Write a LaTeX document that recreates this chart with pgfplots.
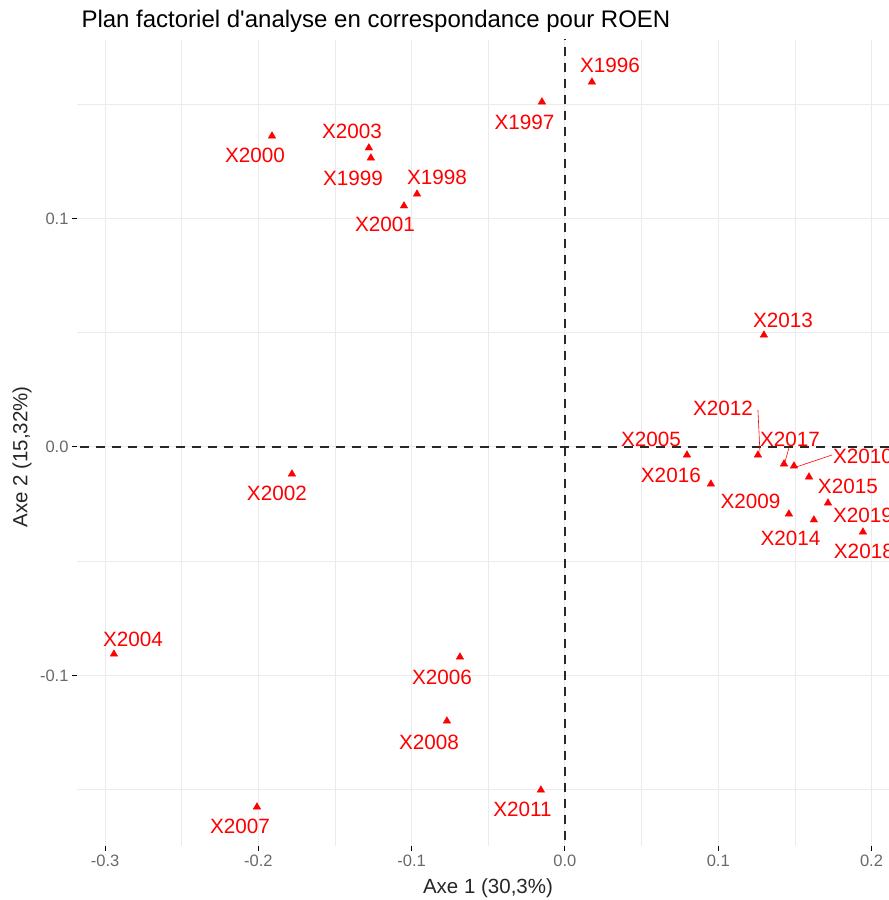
\documentclass[border=0pt]{standalone}
\usepackage{fontspec}
\setmainfont{Liberation Sans}
\usepackage{pgfplots}
\pgfplotsset{compat=1.18}
\usepackage{pgfplotstable}

\definecolor{gridc}{RGB}{235,235,235}
\definecolor{tickc}{RGB}{105,105,105}
\definecolor{ptred}{RGB}{255,0,0}
\definecolor{dashc}{RGB}{40,40,40}

% coordonnees des annees sur les axes 1 et 2
\pgfplotstableread{
x y
0.0176 0.1597
-0.0150 0.1510
-0.0965 0.1107
-0.1266 0.1265
-0.1911 0.1361
-0.1050 0.1055
-0.1781 -0.0118
-0.1279 0.1309
-0.2942 -0.0906
0.0796 -0.0035
-0.0685 -0.0919
-0.2009 -0.1575
-0.0770 -0.1199
0.1461 -0.0293
0.1494 -0.0083
-0.0157 -0.1501
0.1259 -0.0035
0.1298 0.0490
0.1624 -0.0319
0.1592 -0.0131
0.0952 -0.0162
0.1429 -0.0074
0.1944 -0.0372
0.1716 -0.0245
}\points

% position des etiquettes (repel)
\pgfplotstableread{
x y lab
0.0294 0.1672 X1996
-0.0264 0.1422 X1997
-0.0835 0.1182 X1998
-0.1383 0.1177 X1999
-0.2022 0.1278 X2000
-0.1174 0.0972 X2001
-0.1879 -0.0201 X2002
-0.1389 0.1383 X2003
-0.2818 -0.0840 X2004
0.0561 0.0035 X2005
-0.0802 -0.1007 X2006
-0.2120 -0.1659 X2007
-0.0887 -0.1291 X2008
0.1210 -0.0236 X2009
0.1944 -0.0039 X2010
-0.0277 -0.1584 X2011
0.1031 0.0171 X2012
0.1422 0.0556 X2013
0.1471 -0.0398 X2014
0.1846 -0.0171 X2015
0.0691 -0.0123 X2016
0.1468 0.0035 X2017
0.1950 -0.0455 X2018
0.1944 -0.0298 X2019
}\labels

\begin{document}
\begin{tikzpicture}[x=1pt,y=1pt]
\path[use as bounding box] (0,0) rectangle (889,900);
\begin{axis}[
  at={(77pt,54pt)}, anchor=south west,
  scale only axis, width=812pt, height=806pt,
  xmin=-0.3183, xmax=0.2114,
  ymin=-0.1746, ymax=0.1781,
  axis line style={draw=none},
  xtick={-0.3,-0.2,-0.1,0,0.1,0.2},
  xticklabels={-0.3,-0.2,-0.1,0.0,0.1,0.2},
  ytick={-0.1,0,0.1},
  yticklabels={-0.1,0.0,0.1},
  minor xtick={-0.25,-0.15,-0.05,0.05,0.15},
  minor ytick={-0.15,-0.05,0.05,0.15},
  grid=both,
  major grid style={gridc, line width=1pt},
  minor grid style={gridc, line width=0.6pt},
  tick align=outside, tick pos=left,
  major tick length=5pt, minor tick length=0pt,
  tick style={black, line width=1pt},
  ticklabel style={font=\fontsize{16.5}{18}\selectfont, text=tickc},
  clip=true,
]
\addplot[dashc, line width=1.4pt, dash pattern=on 9pt off 7pt] coordinates {(0,-0.2) (0,0.2)};
\addplot[dashc, line width=1.4pt, dash pattern=on 9pt off 7pt] coordinates {(-0.4,0) (0.3,0)};

\addplot[ptred, line width=0.6pt] coordinates {(0.1259,0.0162) (0.1272,-0.0022)};
\addplot[ptred, line width=0.6pt] coordinates {(0.1461,-0.0004) (0.1435,-0.0066)};
\addplot[ptred, line width=0.6pt] coordinates {(0.1742,-0.0035) (0.1507,-0.0088)};

\addplot[only marks, mark=triangle*, mark size=4.3pt, ptred] table[x=x, y=y] {\points};

\addplot[draw=none, mark=none, nodes near coords, point meta=explicit symbolic,
  nodes near coords style={anchor=center, text=ptred, inner sep=0pt,
    font=\fontsize{20.7}{22}\selectfont}]
  table[x=x, y=y, meta=lab] {\labels};
\end{axis}

\node[anchor=west, font=\fontsize{24}{26}\selectfont] at (78,879) {Plan factoriel d\textquotesingle analyse en correspondance pour ROEN};
\node[font=\fontsize{20.5}{22}\selectfont, text=black!85] at (488,12) {Axe 1 (30,3\%)};
\node[rotate=90, font=\fontsize{20.5}{22}\selectfont, text=black!85] at (22,443) {Axe 2 (15,32\%)};
\end{tikzpicture}
\end{document}
